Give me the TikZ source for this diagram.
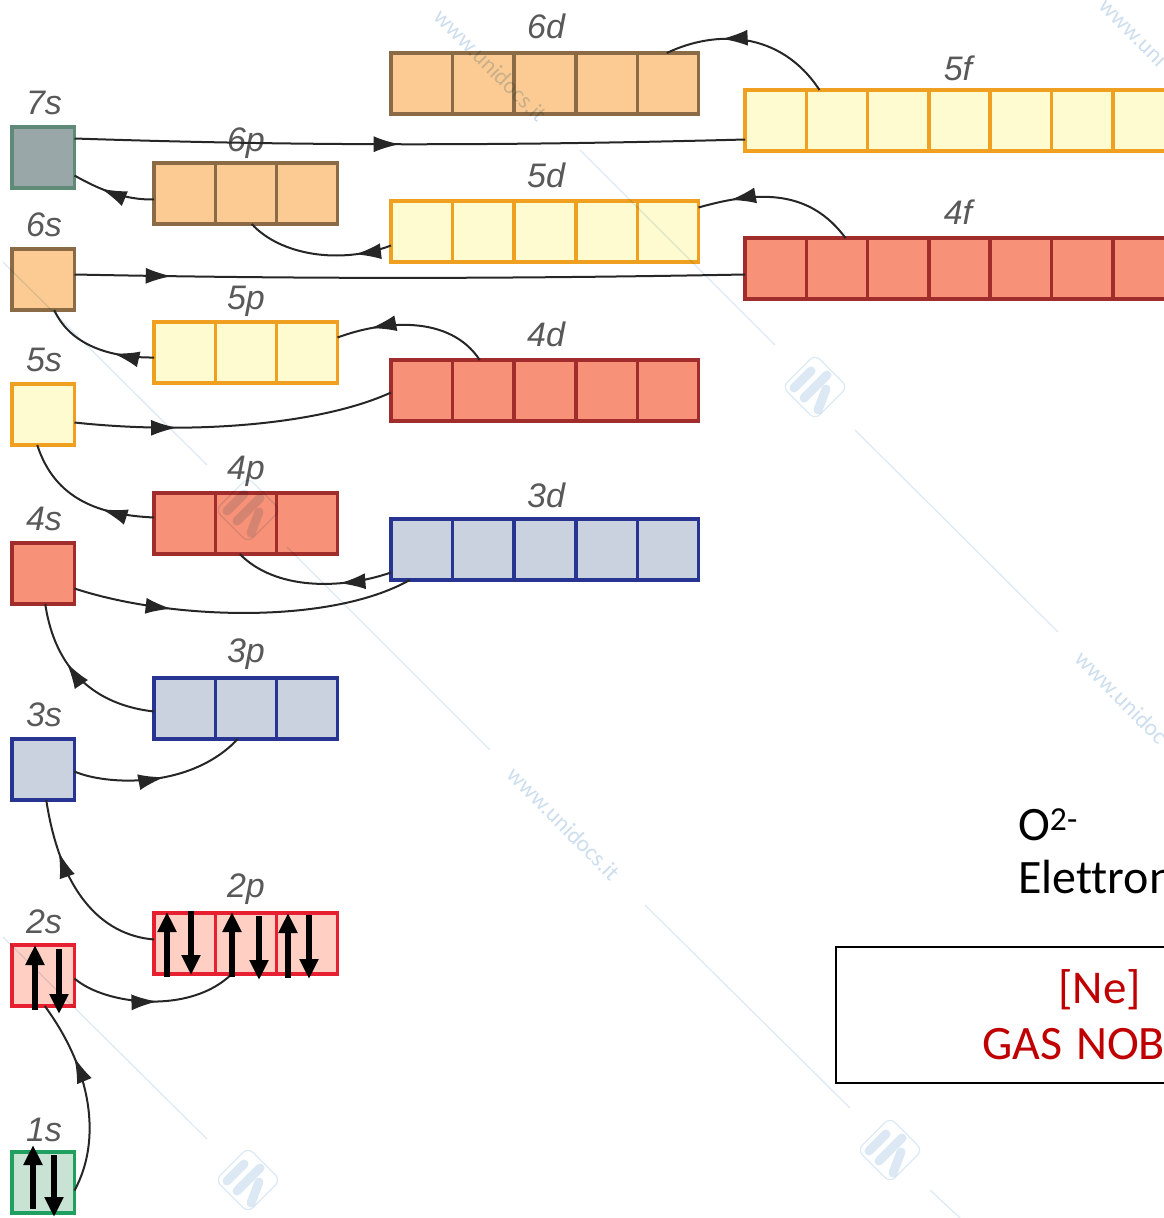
\documentclass[tikz,border=0pt]{standalone}
\usepackage{fontspec}
\setmainfont[Ligatures=NoCommon]{Carlito}
\newfontfamily\labelfont{Liberation Sans}
\usetikzlibrary{arrows.meta, calc, decorations.markings}
\definecolor{OrbGreen}{RGB}{31, 160, 96}
\definecolor{OrbGreenFill}{RGB}{200, 227, 211}
\definecolor{OrbRed}{RGB}{230, 32, 48}
\definecolor{OrbRedFill}{RGB}{255, 207, 196}
\definecolor{OrbNavy}{RGB}{40, 52, 145}
\definecolor{OrbNavyFill}{RGB}{201, 210, 222}
\definecolor{OrbBrick}{RGB}{160, 44, 44}
\definecolor{OrbBrickFill}{RGB}{247, 145, 119}
\definecolor{OrbAmber}{RGB}{240, 160, 32}
\definecolor{OrbAmberFill}{RGB}{255, 251, 208}
\definecolor{OrbBrown}{RGB}{139, 107, 69}
\definecolor{OrbBrownFill}{RGB}{252, 203, 147}
\definecolor{OrbSlate}{RGB}{95, 138, 120}
\definecolor{OrbSlateFill}{RGB}{154, 167, 168}
\definecolor{Mark}{RGB}{220, 233, 244}
\definecolor{MarkText}{RGB}{205, 222, 238}
\definecolor{NobleRed}{RGB}{192, 0, 0}

\begin{document}
\begin{tikzpicture}[
    x=1pt, y=-1pt,
    orb/.style={draw=#1, fill=#1Fill, line width=3.5pt, anchor=north west, inner sep=0pt, outer sep=0pt, minimum height=61pt},
    sbox/.style={orb=#1, minimum width=62.5pt},
    pbox/.style={orb=#1, minimum width=183.5pt},
    dbox/.style={orb=#1, minimum width=307.5pt},
    fbox/.style={orb=#1, minimum width=429pt},
    orblabel/.style={font=\labelfont\itshape\fontsize{34}{34}\selectfont, text=black!65, inner sep=0pt},
    flow/.style={line width=2pt, black!85, postaction={decorate}, decoration={markings, mark=at position #1 with {\arrow{Latex[length=26pt,width=16pt]}}}},
    spin/.style={line width=5.5pt, -{Triangle[length=20pt,width=18pt]}},
    note/.style={font=\fontsize{48}{48}\selectfont, anchor=base west, inner sep=0pt},
    wmline/.style={draw=Mark, line width=1.2pt},
    wmtext/.style={font=\fontsize{23.5}{23.5}\selectfont, text=MarkText, rotate=-45, anchor=west, inner sep=0pt},
    pics/wmlogo/.style={code={
      \draw[Mark, line width=1.2pt, rounded corners=7pt, rotate=45] (-23,-23) rectangle (23,23);
      \draw[Mark, line width=9pt, line cap=round] (-4,-16) -- (-21,1);
      \draw[Mark, line width=9pt, line cap=round] (12,-12) -- (-11,11);
      \draw[Mark, line width=9pt, line cap=round] (11,2) -- (3,23);
    }}
  ]
    \clip (0,0) rectangle (1164,1218);

    % Orbitali s
    \node[sbox=OrbGreen] (s1) at (12,1152) {};
    \node[sbox=OrbRed] (s2) at (12,945) {};
    \node[sbox=OrbNavy] (s3) at (12,739) {};
    \node[sbox=OrbBrick] (s4) at (12,543) {};
    \node[sbox=OrbAmber] (s5) at (12,384) {};
    \node[sbox=OrbBrown] (s6) at (12,249) {};
    \node[sbox=OrbSlate] (s7) at (12,127) {};

    % Orbitali p
    \node[pbox=OrbRed] (p2) at (154,913) {};
    \node[pbox=OrbNavy] (p3) at (154,678) {};
    \node[pbox=OrbBrick] (p4) at (154,493) {};
    \node[pbox=OrbAmber] (p5) at (154,322) {};
    \node[pbox=OrbBrown] (p6) at (154,163) {};

    % Orbitali d
    \node[dbox=OrbNavy] (d3) at (391,519) {};
    \node[dbox=OrbBrick] (d4) at (391,360) {};
    \node[dbox=OrbAmber] (d5) at (391,201) {};
    \node[dbox=OrbBrown] (d6) at (391,53) {};

    % Orbitali f
    \node[fbox=OrbBrick] (f4) at (745,238) {};
    \node[fbox=OrbAmber] (f5) at (745,90) {};

    % Divisori
    \foreach \name/\col in {p2/OrbRed, p3/OrbNavy, p4/OrbBrick, p5/OrbAmber, p6/OrbBrown}
      \foreach \k in {1,2}
        \draw[\col, line width=3.5pt] ($(\name.north west)+(\k*61.3,0)$) -- ($(\name.south west)+(\k*61.3,0)$);
    \foreach \name/\col in {d3/OrbNavy, d4/OrbBrick, d5/OrbAmber, d6/OrbBrown}
      \foreach \k in {1,...,4}
        \draw[\col, line width=3.5pt] ($(\name.north west)+(\k*61.6,0)$) -- ($(\name.south west)+(\k*61.6,0)$);
    \foreach \name/\col in {f4/OrbBrick, f5/OrbAmber}
      \foreach \k in {1,...,6}
        \draw[\col, line width=3.5pt] ($(\name.north west)+(\k*61.3,0)$) -- ($(\name.south west)+(\k*61.3,0)$);

    % Etichette
    \foreach \lab/\px/\py in {1/44/1130, 2/44/922, 3/44/715, 4/44/519, 5/44/360, 6/44/225, 7/44/103}
      \node[orblabel] (ls\lab) at (\px,\py) {\lab s};
    \foreach \lab/\px/\py in {2/246/889, 3/246/654, 4/246/471, 5/246/301, 6/246/143}
      \node[orblabel] (lp\lab) at (\px,\py) {\lab p};
    \foreach \lab/\px/\py in {3/546/495, 4/546/334, 5/546/175, 6/546/26}
      \node[orblabel] (ld\lab) at (\px,\py) {\lab d};
    \foreach \lab/\px/\py in {4/958/212, 5/958/68}
      \node[orblabel] (lf\lab) at (\px,\py) {\lab f};

    % Sequenza di riempimento
    \draw[flow=.7] ([yshift=-8pt]s1.east) .. controls (102,1140) and (92,1070) .. ([xshift=1.5pt]s2.south);
    \draw[flow=.52] ([yshift=-3pt]s2.east) .. controls (105,1005) and (190,1015) .. ([xshift=-14pt]p2.south);
    \draw[flow=.72] ([yshift=4pt]p2.west) .. controls (100,935) and (60,890) .. ([xshift=3pt]s3.south);
    \draw[flow=.52] ([yshift=-2pt]s3.east) .. controls (105,785) and (190,790) .. ([xshift=-8pt]p3.south);
    \draw[flow=.62] ([yshift=-3pt]p3.west) .. controls (95,705) and (55,670) .. ([xshift=2pt]s4.south);
    \draw[flow=.29] ([yshift=-15pt]s4.east) .. controls (170,620) and (330,625) .. ([xshift=-135pt]d3.south);
    \draw[flow=.33] ([yshift=-23pt]d3.west) .. controls (340,590) and (275,590) .. ([xshift=-6pt]p4.south);
    \draw[flow=.36] ([yshift=6pt]p4.west) .. controls (100,515) and (55,500) .. ([xshift=-6pt]s5.south);
    \draw[flow=.32] ([yshift=-8pt]s5.east) .. controls (190,435) and (320,425) .. ([yshift=-2pt]d4.west);
    \draw[flow=.78] ([xshift=-65pt]d4.north) .. controls (450,315) and (385,320) .. ([yshift=15pt]p5.east);
    \draw[flow=.35] ([yshift=-5pt]p5.west) .. controls (110,358) and (70,345) .. ([xshift=11pt]s6.south);
    \draw[flow=.145] ([yshift=5pt]s6.east) .. controls (300,279) and (500,279) .. ([yshift=-6pt]f4.west);
    \draw[flow=.8] ([xshift=-114pt]f4.north) .. controls (810,190) and (760,190) .. ([yshift=24pt]d5.east);
    \draw[flow=.25] ([yshift=-14pt]d5.west) .. controls (340,265) and (280,255) .. ([xshift=6pt]p6.south);
    \draw[flow=.65] ([yshift=-6pt]p6.west) .. controls (125,200) and (100,190) .. ([yshift=-18pt]s7.east);
    \draw[flow=.485] ([yshift=19pt]s7.east) .. controls (300,146) and (500,146) .. ([yshift=-19pt]f5.west);
    \draw[flow=.67] ([xshift=-140pt]f5.north) .. controls (780,30) and (715,30) .. ([xshift=122pt]d6.north);

    % Filigrana
    \begin{scope}[blend mode=multiply]
      \draw[wmline] (3,262) -- (207,465);
      \draw[wmline] (287,547) -- (490,750);
      \draw[wmline] (3,937) -- (207,1139);
      \draw[wmline] (645,905) -- (850,1108);
      \draw[wmline] (855,430) -- (1058,632);
      \draw[wmline] (580,150) -- (775,345);
      \draw[wmline] (930,1190) -- (960,1218);
      \node[wmtext] (wm1) at (438,13) {www.unidocs.it};
      \node[wmtext] (wm2) at (511,771) {www.unidocs.it};
      \node[wmtext] (wm3) at (1079,655) {www.unidoc};
      \node[wmtext] (wm4) at (1103,2) {www.uni};
      \pic at (815,387) {wmlogo};
      \pic at (248,1180) {wmlogo};
      \pic at (890,1150) {wmlogo};
      \pic at (248,510) {wmlogo};
    \end{scope}

    % Elettroni
    \foreach \px/\ya/\yb in {33/1209/1145, 54/1155/1217, 35/1010/945, 59/949/1014, 167/977/912, 191/911/975, 232/977/912, 259/916/980, 288/978/913, 309/915/979}
      \draw[spin] (\px,\ya) -- (\px,\yb);

    % Riquadro
    \node[draw=black, line width=2.4pt, anchor=north west, inner sep=0pt, outer sep=0pt, minimum width=500pt, minimum height=136pt] (gasbox) at (836,947) {};
    \node[note] (ion) at (1018,840) {O\textsuperscript{2-}};
    \node[note] (elec) at (1018,893) {Elettron};
    \node[note, text=NobleRed, font=\fontsize{47}{47}\selectfont] (neon) at (1058,1003) {[Ne]};
    \node[note, text=NobleRed] (gas) at (982,1059) {GAS\hspace{.29em}NOB};
  \end{tikzpicture}
\end{document}
